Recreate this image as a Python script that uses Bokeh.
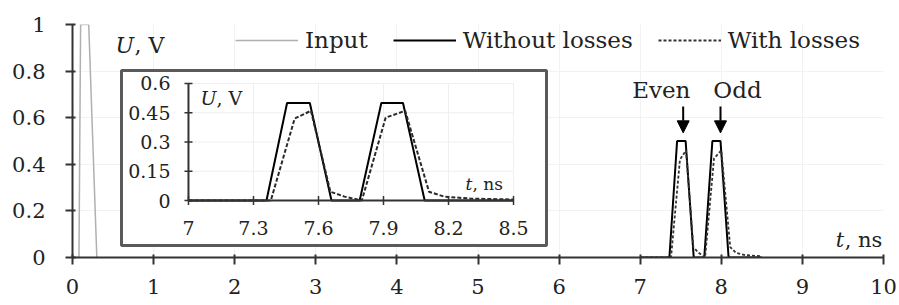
import numpy as np
from bokeh.plotting import figure
from bokeh.models import (FixedTicker, Range1d, Legend, LegendItem, Label, Arrow,
                          NormalHead, BoxAnnotation)
from bokeh.core.properties import value
from bokeh.embed import file_html
from bokeh.resources import INLINE

# ---------------- data ----------------
x_ticks = [0, 1, 2, 3, 4, 5, 6, 7, 8, 9, 10]
x_tick_labels = ["0", "1", "2", "3", "4", "5", "6", "7", "8", "9", "10"]
y_ticks = [0, 0.2, 0.4, 0.6, 0.8, 1]
y_tick_labels = ["0", "0.2", "0.4", "0.6", "0.8", "1"]

inset_x_ticks = [7, 7.3, 7.6, 7.9, 8.2, 8.5]
inset_x_tick_labels = ["7", "7.3", "7.6", "7.9", "8.2", "8.5"]
inset_y_ticks = [0, 0.15, 0.3, 0.45, 0.6]
inset_y_tick_labels = ["0", "0.15", "0.3", "0.45", "0.6"]

input_t = [0.0, 0.08, 0.10, 0.20, 0.30]
input_u = [0, 0, 1, 1, 0]

lossless_t = [7.0, 7.36, 7.455, 7.56, 7.66, 7.79, 7.89, 7.99, 8.09, 8.5]
lossless_u = [0, 0, 0.5, 0.5, 0, 0, 0.5, 0.5, 0, 0]

lossy_t = [7.0, 7.38, 7.49, 7.565, 7.655, 7.72, 7.80, 7.91, 8.0, 8.11, 8.18, 8.3, 8.5]
lossy_u = [0, 0, 0.42, 0.46, 0.045, 0.02, 0.0, 0.425, 0.46, 0.045, 0.02, 0.01, 0.005]

series_names = ["Input", "Without losses", "With losses"]
mode_names = ["Even", "Odd"]

FONT = "DejaVu Serif"
AX = "#333333"

# ---------------- main figure ----------------
p = figure(width=899, height=305, x_range=Range1d(0, 10), y_range=Range1d(0, 1),
           output_backend="svg", toolbar_location=None,
           min_border_left=72, min_border_right=16, min_border_top=24, min_border_bottom=48)
p.outline_line_color = None
p.background_fill_color = "white"

p.xaxis.ticker = FixedTicker(ticks=x_ticks)
p.yaxis.ticker = FixedTicker(ticks=y_ticks)
p.xaxis.major_label_overrides = {t: l for t, l in zip(x_ticks, x_tick_labels)}
p.yaxis.major_label_overrides = {t: l for t, l in zip(y_ticks, y_tick_labels)}
for ax in (p.xaxis, p.yaxis):
    ax.axis_line_color = AX
    ax.axis_line_width = 2
    ax.major_tick_line_color = AX
    ax.major_tick_line_width = 2
    ax.major_tick_in = 3
    ax.major_tick_out = 7
    ax.minor_tick_line_color = None
    ax.major_label_text_font = FONT
    ax.major_label_text_font_size = "21px"
    ax.major_label_text_color = "#222222"
p.yaxis.major_label_standoff = 20
p.xaxis.major_label_standoff = 14
p.xgrid.grid_line_color = "#f2f2f2"
p.ygrid.grid_line_color = "#f2f2f2"

# inset frame (white box with border)
p.add_layout(BoxAnnotation(left=0.604, right=5.845, bottom=0.0515, top=0.8026,
                           fill_color="white", fill_alpha=1.0,
                           line_color="#5a5a5a", line_alpha=1.0, line_width=3,
                           level="underlay"))

# main series
r_in = p.line(input_t, input_u, line_color="#b0b0b0", line_width=1.5)
r_wo = p.line(lossless_t, lossless_u, line_color="black", line_width=2)
r_w = p.line(lossy_t, lossy_u, line_color="#333333", line_width=1.8, line_dash="3 2")

legend = Legend(items=[LegendItem(label=series_names[0], renderers=[r_in]),
                       LegendItem(label=series_names[1], renderers=[r_wo]),
                       LegendItem(label=series_names[2], renderers=[r_w])],
                orientation="horizontal", location=(163, 204),
                glyph_width=63, glyph_height=24, label_height=24, label_standoff=7,
                spacing=25, padding=0, margin=0, border_line_alpha=0,
                background_fill_alpha=0, label_text_font=FONT,
                label_text_font_size="23px", label_text_color="#222222")
p.add_layout(legend)

# axis titles in main plot
p.add_layout(Label(x=0.53, y=0.91, text="U", text_font=FONT, text_font_style="italic",
                   text_font_size="22px", text_baseline="middle", text_color="#222222"))
p.add_layout(Label(x=0.53, y=0.91, x_offset=19, text=", V", text_font=FONT,
                   text_font_size="22px", text_baseline="middle", text_color="#222222"))
p.add_layout(Label(x=9.41, y=0.077, text="t", text_font=FONT, text_font_style="italic",
                   text_font_size="21px", text_baseline="middle", text_color="#222222"))
p.add_layout(Label(x=9.41, y=0.077, x_offset=9, text=", ns", text_font=FONT,
                   text_font_size="21px", text_baseline="middle", text_color="#222222"))

# Even / Odd labels and arrows
p.add_layout(Label(x=7.26, y=0.719, text=mode_names[0], text_font=FONT,
                   text_font_size="23px", text_align="center", text_baseline="middle",
                   text_color="#222222"))
p.add_layout(Label(x=8.20, y=0.719, text=mode_names[1], text_font=FONT,
                   text_font_size="23px", text_align="center", text_baseline="middle",
                   text_color="#222222"))
for xa in (7.53, 7.99):
    p.add_layout(Arrow(x_start=xa, y_start=0.648, x_end=xa, y_end=0.535,
                       line_color="black", line_width=2,
                       end=NormalHead(size=12, fill_color="black", line_color="black")))

# ---------------- inset (sub-coordinates) ----------------
sp = p.subplot(x_source=Range1d(inset_x_ticks[0], inset_x_ticks[-1]),
               y_source=Range1d(inset_y_ticks[0], inset_y_ticks[-1]),
               x_target=Range1d(1.43, 5.438), y_target=Range1d(0.2446, 0.7468))

n_x = len(inset_x_ticks)
n_y = len(inset_y_ticks)
# faint grid
sp.segment(x0=inset_x_ticks[1:], y0=[inset_y_ticks[0]] * (n_x - 1),
           x1=inset_x_ticks[1:], y1=[inset_y_ticks[-1]] * (n_x - 1),
           line_color="#efefef", line_width=1)
sp.segment(x0=[inset_x_ticks[0]] * (n_y - 1), y0=inset_y_ticks[1:],
           x1=[inset_x_ticks[-1]] * (n_y - 1), y1=inset_y_ticks[1:],
           line_color="#efefef", line_width=1)

# inset data
sp.line(lossless_t, lossless_u, line_color="black", line_width=2)
sp.line(lossy_t, lossy_u, line_color="#2a2a2a", line_width=2, line_dash="4 2")

# inset axes
sp.line(x=[inset_x_ticks[0], inset_x_ticks[-1]], y=[inset_y_ticks[0]] * 2,
        line_color=AX, line_width=2)
sp.line(x=[inset_x_ticks[0]] * 2, y=[inset_y_ticks[0], inset_y_ticks[-1]],
        line_color=AX, line_width=2)
sp.scatter(x=inset_x_ticks, y=[inset_y_ticks[0]] * n_x, marker="dash", angle=np.pi / 2,
           size=9, line_color=AX, line_width=1.5)
sp.scatter(x=[inset_x_ticks[0]] * n_y, y=inset_y_ticks, marker="dash", angle=0,
           size=8, line_color=AX, line_width=1.5)
sp.text(x=inset_x_ticks, y=[inset_y_ticks[0]] * n_x, text=inset_x_tick_labels,
        y_offset=27, text_align="center", text_baseline="middle",
        text_font=value(FONT), text_font_size=value("19px"), text_color="#222222")
sp.text(x=[inset_x_ticks[0]] * n_y, y=inset_y_ticks, text=inset_y_tick_labels,
        x_offset=-18, text_align="right", text_baseline="middle",
        text_font=value(FONT), text_font_size=value("19px"), text_color="#222222")

# inset axis titles
sp.text(x=[7.0], y=[0.526], x_offset=12, text=["U"], text_baseline="middle",
        text_font=value(FONT), text_font_style="italic", text_font_size=value("19px"),
        text_color="#222222")
sp.text(x=[7.0], y=[0.526], x_offset=28, text=[", V"], text_baseline="middle",
        text_font=value(FONT), text_font_size=value("19px"), text_color="#222222")
sp.text(x=[8.278], y=[0.085], text=["t"], text_baseline="middle",
        text_font=value(FONT), text_font_style="italic", text_font_size=value("17px"),
        text_color="#222222")
sp.text(x=[8.278], y=[0.085], x_offset=7, text=[", ns"], text_baseline="middle",
        text_font=value(FONT), text_font_size=value("17px"), text_color="#222222")

open("out.html", "w").write(file_html(p, INLINE))
